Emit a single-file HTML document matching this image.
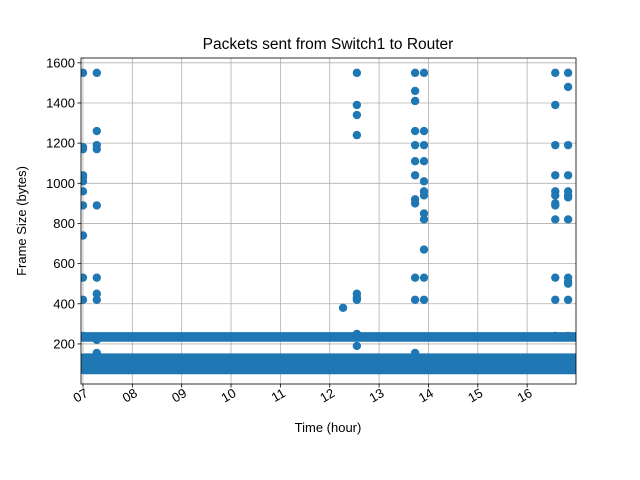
<!DOCTYPE html>
<html><head><meta charset="utf-8"><style>
body{margin:0;background:#fff}
svg{display:block;font-family:"Liberation Sans","DejaVu Sans",sans-serif}
</style></head><body>
<svg id="chart" width="640" height="480">
<rect width="640" height="480" fill="#fff"/>
</svg>
<script>
const outlierTimes = [7.0,7.0,7.0,7.0,7.0,7.0,7.0,7.0,7.0,7.0,7.0,7.0,
 7.28,7.28,7.28,7.28,7.28,7.28,7.28,7.28,7.28,7.28,
 12.55,12.55,12.55,12.55,12.55,12.55,12.55,12.55,12.55,12.27,
 13.73,13.73,13.73,13.73,13.73,13.73,13.73,13.73,13.73,13.73,13.73,13.73,
 13.91,13.91,13.91,13.91,13.91,13.91,13.91,13.91,13.91,13.91,13.91,13.91,
 16.57,16.57,16.57,16.57,16.57,16.57,16.57,16.57,16.57,16.57,16.57,16.57,
 16.83,16.83,16.83,16.83,16.83,16.83,16.83,16.83,16.83,16.83,16.83,16.83,16.83];
const outlierSizes = [1550,1180,1170,1040,1030,1010,960,890,740,530,420,240,
 1550,1260,1190,1170,890,530,450,420,220,155,
 1550,1390,1340,1240,450,430,420,250,190,380,
 1550,1460,1410,1260,1190,1110,1040,920,900,530,420,155,
 1550,1260,1190,1110,1010,960,940,850,820,670,530,420,
 1550,1390,1190,1040,960,940,900,890,820,530,420,240,
 1550,1480,1190,1040,960,940,930,820,530,510,500,420,240];
const bandStarts = [7.0, 7.0];
const bandEnds = [16.98, 16.98];
const bandMin = [70, 232];
const bandMax = [132, 238];
const yTicks = [200,400,600,800,1000,1200,1400,1600];
const xTicks = [7,8,9,10,11,12,13,14,15,16];
const xTickLabels = ["07","08","09","10","11","12","13","14","15","16"];

const L=81,R=576,T=58,B=384;
const xMin=6.96,xMax=16.99,yMin=0.5,yMax=1624;
const sx=v=>L+(v-xMin)/(xMax-xMin)*(R-L);
const sy=v=>B-(v-yMin)/(yMax-yMin)*(B-T);
const svg=document.getElementById('chart');
const NS='http://www.w3.org/2000/svg';
function mk(tag,attrs,parent){const e=document.createElementNS(NS,tag);for(const k in attrs)e.setAttribute(k,attrs[k]);(parent||svg).appendChild(e);return e;}
const C='#1f77b4', rad=4.2;

const grid=mk('g',{});


xTicks.forEach(t=>mk('line',{x1:sx(t),x2:sx(t),y1:T,y2:B,stroke:'#b0b0b0','stroke-width':0.8},grid));
yTicks.forEach(t=>mk('line',{x1:L,x2:R,y1:sy(t),y2:sy(t),stroke:'#b0b0b0','stroke-width':0.8},grid));

const marks=mk('g',{});


bandStarts.forEach((s,i)=>{
  const x1=sx(s)-rad,x2=sx(bandEnds[i])+rad,y1=sy(bandMax[i])-rad,y2=sy(bandMin[i])+rad;
  const r=mk('rect',{x:x1,y:y1,width:x2-x1,height:y2-y1,rx:rad,fill:C},marks);
  
  
});
outlierTimes.forEach((t,i)=>{
  const c=mk('circle',{cx:sx(t),cy:sy(outlierSizes[i]),r:rad,fill:C},marks);
  
  
});
mk('rect',{x:0,y:0,width:L,height:480,fill:'#fff'});
mk('rect',{x:R,y:0,width:640-R,height:480,fill:'#fff'});

const frame=mk('rect',{x:L,y:T,width:R-L,height:B-T,fill:'none',stroke:'#000','stroke-width':0.8});



yTicks.forEach(t=>{
  mk('line',{x1:L-3.5,x2:L,y1:sy(t),y2:sy(t),stroke:'#000','stroke-width':0.8});
  const tx=mk('text',{x:L-6,y:sy(t)+4.5,'text-anchor':'end','font-size':13});
  tx.textContent=t;
  
  
});
xTicks.forEach((t,i)=>{
  mk('line',{x1:sx(t),x2:sx(t),y1:B,y2:B+3.5,stroke:'#000','stroke-width':0.8});
  const x=sx(t)+1,y=B+13;
  const tx=mk('text',{x:x,y:y,'text-anchor':'end','font-size':13,transform:`rotate(-30 ${x} ${y-10})`});
  tx.textContent=xTickLabels[i];
  
  
});
</script>
<svg style="position:absolute;left:0;top:0" width="640" height="480">
<text x="328" y="49" text-anchor="middle" font-size="15.5" font-family="Liberation Sans, DejaVu Sans, sans-serif">Packets sent from Switch1 to Router</text>
<text x="328" y="432" text-anchor="middle" font-size="13" font-family="Liberation Sans, DejaVu Sans, sans-serif">Time (hour)</text>
<text x="26" y="221" text-anchor="middle" font-size="13" font-family="Liberation Sans, DejaVu Sans, sans-serif" transform="rotate(-90 26 221)">Frame Size (bytes)</text>
</svg>
</body></html>
